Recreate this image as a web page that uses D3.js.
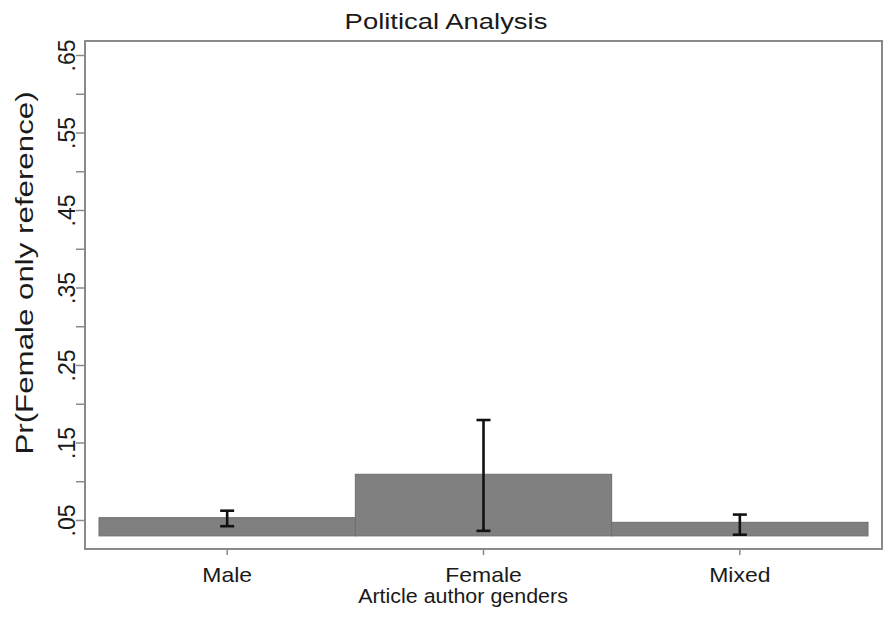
<!DOCTYPE html>
<html>
<head>
<meta charset="utf-8">
<script src="https://cdn.jsdelivr.net/npm/d3@7"></script>
<style>
  body { margin: 0; background: white; }
  text { font-family: 'Liberation Sans', Arial, sans-serif; fill: #1a1a1a; }
</style>
</head>
<body>
<div id="chart"></div>
<script>
const categories = ['Male', 'Female', 'Mixed']
const means = [0.053, 0.109, 0.047]
const lower = [0.042, 0.036, 0.031]
const upper = [0.062, 0.179, 0.057]
const majorTicks = [0.05, 0.15, 0.25, 0.35, 0.45, 0.55, 0.65]
const majorLabels = ['.05', '.15', '.25', '.35', '.45', '.55', '.65']
const minorTicks = [0.10, 0.20, 0.30, 0.40, 0.50, 0.60]
const barBase = 0.0295

const width = 885
const height = 620
const plot = { left: 85, right: 882, top: 41, bottom: 549 }
const gray = '#8a8a8a'
const font = "'Liberation Sans', Arial, sans-serif"

const svg = d3.select('#chart').append('svg')
    .attr('width', width)
    .attr('height', height)

svg.append('rect')
    .attr('width', width)
    .attr('height', height)
    .attr('fill', 'white')

// .05 sits at y=520, .65 at y=55
const yScale = d3.scaleLinear().domain([0.05, 0.65]).range([520, 55])
const xScale = d3.scaleBand().domain(categories).range([99, 868]).padding(0)

// bars
svg.append('g')
    .selectAll('rect')
    .data(categories)
    .join('rect')
    .attr('x', d => xScale(d))
    .attr('width', xScale.bandwidth())
    .attr('y', (d, i) => yScale(means[i]))
    .attr('height', (d, i) => yScale(barBase) - yScale(means[i]))
    .attr('fill', '#808080')
    .attr('stroke', '#6e6e6e')
    .attr('stroke-width', 1)

// error bars
const errs = svg.append('g')
    .attr('stroke', '#111')
    .attr('stroke-width', 2.6)
categories.forEach((c, i) => {
    const cx = xScale(c) + xScale.bandwidth() / 2
    errs.append('line')
        .attr('x1', cx).attr('x2', cx)
        .attr('y1', yScale(upper[i])).attr('y2', yScale(lower[i]))
    errs.append('line')
        .attr('x1', cx - 7).attr('x2', cx + 7)
        .attr('y1', yScale(upper[i])).attr('y2', yScale(upper[i]))
    errs.append('line')
        .attr('x1', cx - 7).attr('x2', cx + 7)
        .attr('y1', yScale(lower[i])).attr('y2', yScale(lower[i]))
})

// frame
svg.append('rect')
    .attr('x', plot.left)
    .attr('y', plot.top)
    .attr('width', plot.right - plot.left)
    .attr('height', plot.bottom - plot.top)
    .attr('fill', 'none')
    .attr('stroke', gray)
    .attr('stroke-width', 2)

// y axis
const yAxis = svg.append('g')
    .attr('transform', 'translate(' + plot.left + ',0)')
    .call(d3.axisLeft(yScale).tickValues(majorTicks).tickSize(9).tickFormat((d, i) => majorLabels[i]))
yAxis.select('.domain').remove()
yAxis.selectAll('.tick line').attr('stroke', gray).attr('stroke-width', 1.5)
yAxis.selectAll('.tick text')
    .attr('transform', 'rotate(-90)')
    .attr('x', 0)
    .attr('y', -10)
    .attr('dy', 0)
    .attr('text-anchor', 'middle')
    .style('font-size', '23px')
    .style('font-family', font)
    .attr('fill', '#1a1a1a')

const yMinor = svg.append('g')
    .attr('transform', 'translate(' + plot.left + ',0)')
    .call(d3.axisLeft(yScale).tickValues(minorTicks).tickSize(9).tickFormat(''))
yMinor.select('.domain').remove()
yMinor.selectAll('.tick line').attr('stroke', gray).attr('stroke-width', 1.5)

// x axis
const xAxis = svg.append('g')
    .attr('transform', 'translate(0,' + plot.bottom + ')')
    .call(d3.axisBottom(xScale).tickSize(6))
xAxis.select('.domain').remove()
xAxis.selectAll('.tick line').attr('stroke', gray).attr('stroke-width', 1.5)
xAxis.selectAll('.tick text')
    .attr('y', 33)
    .attr('dy', 0)
    .attr('transform', 'scale(1.12,1)')
    .style('font-size', '20.5px')
    .style('font-family', font)
    .attr('fill', '#1a1a1a')

// titles (the source image is stretched, hence the scale)
svg.append('text')
    .attr('transform', 'translate(446,29) scale(1.22,1)')
    .attr('text-anchor', 'middle')
    .style('font-size', '22.5px')
    .text('Political Analysis')

svg.append('text')
    .attr('transform', 'translate(463,603) scale(1.1,1)')
    .attr('text-anchor', 'middle')
    .style('font-size', '19.5px')
    .text('Article author genders')

svg.append('text')
    .attr('transform', 'translate(33,273) rotate(-90) scale(1.36,1)')
    .attr('text-anchor', 'middle')
    .style('font-size', '23px')
    .text('Pr(Female only reference)')
</script>
</body>
</html>
